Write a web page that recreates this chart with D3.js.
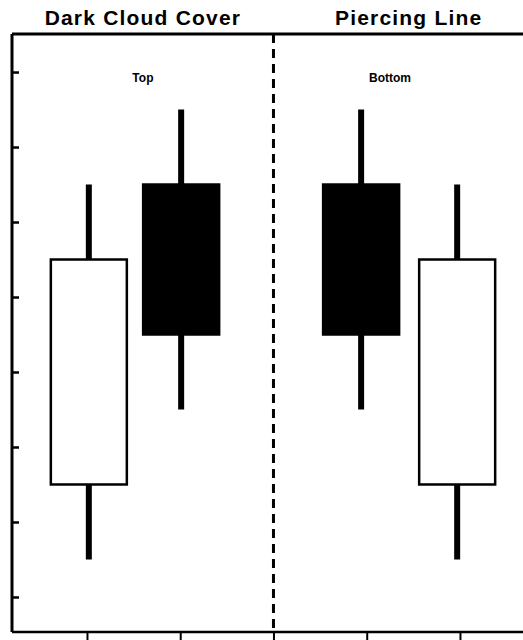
<!DOCTYPE html>
<html>
<head>
<meta charset="utf-8">
<script src="https://cdn.jsdelivr.net/npm/d3@7"></script>
<style>
html,body{margin:0;padding:0;background:#fff;}
svg{display:block;}
</style>
</head>
<body>
<svg id="chart" width="523" height="640"></svg>
<script>
// ---- data ----
const titles = ["Dark Cloud Cover", "Piercing Line"];
const titleX = [1.6, 4.45];
const notes = ["Top", "Bottom"];
const noteX = [1.6, 4.25];
const candleX = [1.02, 2.01, 3.94, 4.97];
const openV  = [2.5, 6.5, 6.5, 2.5];
const closeV = [5.5, 4.5, 4.5, 5.5];
const highV  = [6.5, 7.5, 7.5, 6.5];
const lowV   = [1.5, 3.5, 3.5, 1.5];
const yTicks = [1, 2, 3, 4, 5, 6, 7, 8];
const xTicks = [1, 2, 3, 4, 5];
const dividerX = 3;

const svg = d3.select("#chart");
const x = d3.scaleLinear().domain([0.196, 5.676]).range([12, 523]);
const y = d3.scaleLinear().domain([0.533, 8.507]).range([632, 34]);

const candles = candleX.map((cx, i) => ({x: cx, o: openV[i], c: closeV[i], h: highV[i], l: lowV[i]}));
const bodyW = 76;

// wicks
svg.append("g").selectAll("line").data(candles).join("line")
  .attr("x1", d => x(d.x)).attr("x2", d => x(d.x))
  .attr("y1", d => y(d.h)).attr("y2", d => y(d.l))
  .attr("stroke", "#000").attr("stroke-width", 6);

// bodies
svg.append("g").selectAll("rect").data(candles).join("rect")
  .attr("x", d => x(d.x) - bodyW / 2)
  .attr("width", bodyW)
  .attr("y", d => y(Math.max(d.o, d.c)))
  .attr("height", d => Math.abs(y(d.o) - y(d.c)))
  .attr("fill", d => d.c > d.o ? "#fff" : "#000")
  .attr("stroke", "#000").attr("stroke-width", 2.5);

// divider
svg.append("line")
  .attr("x1", x(dividerX)).attr("x2", x(dividerX))
  .attr("y1", y.range()[1]).attr("y2", y.range()[0])
  .attr("stroke", "#000").attr("stroke-width", 3)
  .attr("stroke-dasharray", "9,6");

// axes
const yAxis = d3.axisRight(y).tickValues(yTicks).tickSize(7).tickFormat("");
const gy = svg.append("g").attr("transform", `translate(${x.range()[0]},0)`).call(yAxis);
gy.select(".domain").attr("stroke-width", 3).attr("d", `M0,${y.range()[1]}V${y.range()[0]}`);
gy.selectAll(".tick line").attr("stroke-width", 2.5);

const xAxis = d3.axisBottom(x).tickValues(xTicks).tickSize(9).tickFormat("");
const gx = svg.append("g").attr("transform", `translate(0,${y.range()[0]})`).call(xAxis);
gx.select(".domain").attr("stroke-width", 2.5).attr("d", `M${x.range()[0]},0H${x.range()[1]}`);
gx.selectAll(".tick line").attr("stroke-width", 2);

// top border
svg.append("line")
  .attr("x1", x.range()[0]).attr("x2", x.range()[1])
  .attr("y1", y.range()[1]).attr("y2", y.range()[1])
  .attr("stroke", "#000").attr("stroke-width", 3);

// titles
svg.append("g").selectAll("text").data(titles).join("text")
  .attr("x", (d, i) => x(titleX[i])).attr("y", 25)
  .attr("text-anchor", "middle")
  .attr("font-family", "Liberation Sans, Arial, sans-serif")
  .attr("font-weight", "bold").attr("font-size", 21)
  .attr("letter-spacing", 1.2)
  .text(d => d);

// notes
svg.append("g").selectAll("text").data(notes).join("text")
  .attr("x", (d, i) => x(noteX[i])).attr("y", 82)
  .attr("text-anchor", "middle")
  .attr("font-family", "Liberation Sans, Arial, sans-serif")
  .attr("font-weight", "bold").attr("font-size", 12)
  .text(d => d);
</script>
</body>
</html>
